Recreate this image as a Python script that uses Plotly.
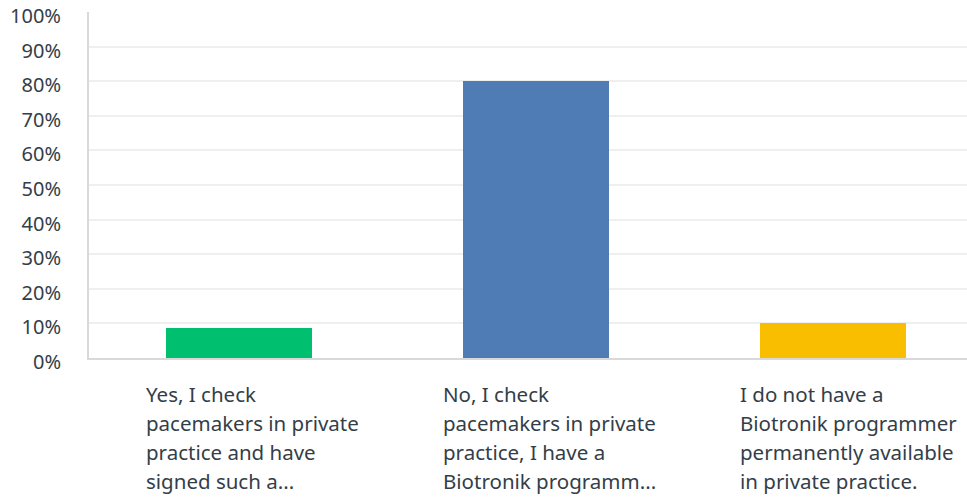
import plotly.graph_objects as go

categories = [
    "Yes, I check<br>pacemakers in private<br>practice and have<br>signed such a...",
    "No, I check<br>pacemakers in private<br>practice, I have a<br>Biotronik programm...",
    "I do not have a<br>Biotronik programmer<br>permanently available<br>in private practice.",
]
values = [8.6, 80.0, 10.0]
colors = ["#00bf6f", "#507cb6", "#f9be00"]
tick_vals = [0, 10, 20, 30, 40, 50, 60, 70, 80, 90, 100]
tick_text = [f"{v}%" for v in tick_vals]

text_color = "#333e48"
font_family = "Noto Sans, Open Sans, sans-serif"

fig = go.Figure()
fig.add_trace(go.Bar(
    x=list(range(len(categories))),
    y=values,
    marker=dict(color=colors, line=dict(width=0)),
    width=0.49,
    hoverinfo="skip",
))

annotations = []
line_h = 29
for i, cat in enumerate(categories):
    for j, line in enumerate(cat.split("<br>")):
        annotations.append(dict(
            x=i, xref="x", y=0, yref="paper",
            text=line, showarrow=False,
            xanchor="left", yanchor="top", align="left",
            xshift=-95, yshift=-20 - j * line_h,
            font=dict(size=20.5, color=text_color, family=font_family),
        ))

fig.update_layout(
    width=967, height=498,
    margin=dict(l=89, r=0, t=12, b=140, pad=0),
    paper_bgcolor="white", plot_bgcolor="white",
    showlegend=False,
    bargap=0,
    annotations=annotations,
    xaxis=dict(
        range=[-0.505, 2.451],
        showticklabels=False, showgrid=False, zeroline=False,
        showline=True, linecolor="#d9d9d9", linewidth=2,
        ticks="", fixedrange=True, automargin=False,
    ),
    yaxis=dict(
        range=[0, 100],
        tickvals=tick_vals, ticktext=tick_text,
        showgrid=True, gridcolor="#efefef", gridwidth=2,
        zeroline=False,
        showline=True, linecolor="#d9d9d9", linewidth=2,
        ticks="", ticklabelstandoff=22, ticklabelshift=4,
        ticklabeloverflow="allow",
        tickfont=dict(size=20, color=text_color, family=font_family),
        fixedrange=True, automargin=False,
    ),
)

fig.write_html(
    "out.html",
    config={"displayModeBar": False},
    post_script="document.body.style.margin='0';document.body.style.overflow='hidden';",
)
